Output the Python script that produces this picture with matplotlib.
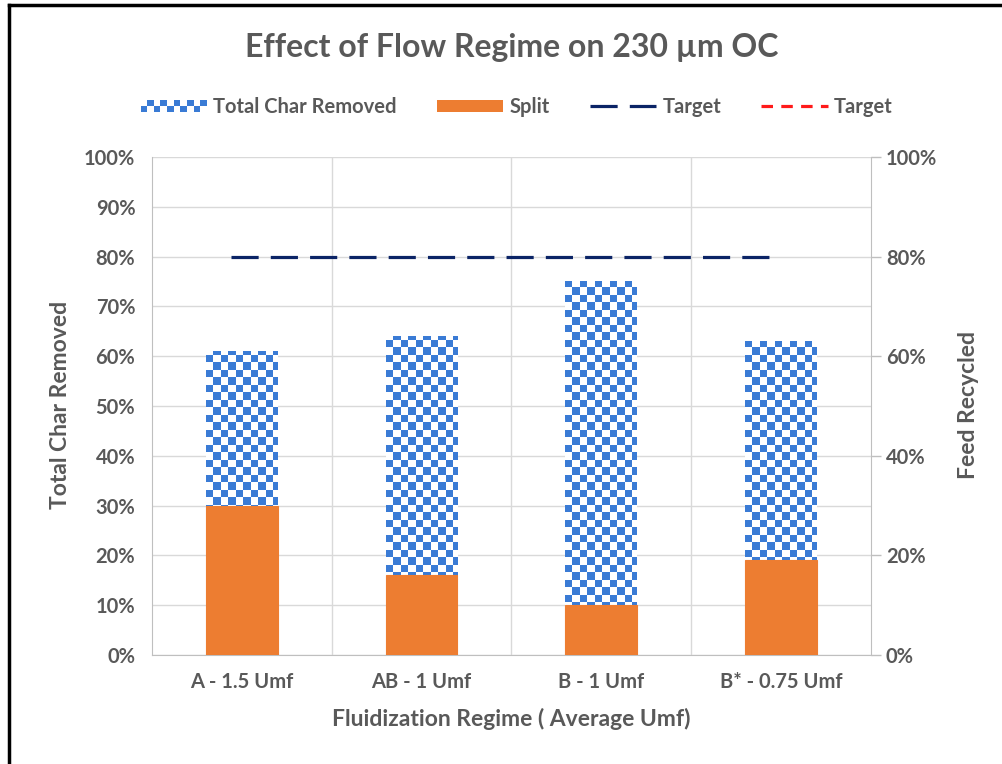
import numpy as np
import matplotlib
matplotlib.use("Agg")
import matplotlib.pyplot as plt
from matplotlib.colors import ListedColormap
from matplotlib.patches import Rectangle
from matplotlib.legend_handler import HandlerBase
from matplotlib.lines import Line2D
from matplotlib.ticker import PercentFormatter, MultipleLocator

# data
categories = ["A - 1.5 Umf", "AB - 1 Umf", "B - 1 Umf", "B* - 0.75 Umf"]
total_char_removed = [61, 64, 75, 63]   # %
split = [30, 16, 10, 19]                # %
target = [80, 80, 80, 80]               # %

BLUE = "#3a7bd5"
ORANGE = "#ED7D31"
NAVY = "#0b2466"
RED = "#ff1a1a"
GRAY = "#595959"
GRID = "#d9d9d9"

plt.rcParams["font.family"] = ["Lato", "DejaVu Sans"]
plt.rcParams["font.weight"] = "bold"

fig = plt.figure(figsize=(10.03, 7.64), dpi=100)
ax = fig.add_axes([0.1515, 0.1427, 0.7165, 0.6518])
ax2 = ax.twinx()

x = np.arange(len(categories))
bar_w = 0.4
ax.set_xlim(-0.5, len(categories) - 0.5)
ax.set_ylim(0, 100)

# checkerboard cells, about 7.5 px
px_x = 180.0          # pixels per category
px_y = 4.98           # pixels per percent
cw = 7.5 / px_x
ch = 7.5 / px_y
cmap = ListedColormap(["white", BLUE])
for xi, tot in zip(x, total_char_removed):
    x0 = xi - bar_w / 2
    rect = Rectangle((x0, 0), bar_w, tot, facecolor="white", edgecolor="none", zorder=2)
    ax.add_patch(rect)
    nx = int(np.ceil(bar_w / cw))
    ny = int(np.ceil(tot / ch))
    ii, jj = np.indices((ny, nx))
    board = ((ii + jj) % 2)[::-1]
    im = ax.imshow(board, cmap=cmap, interpolation="nearest", aspect="auto",
                   extent=(x0, x0 + nx * cw, 0, ny * ch), origin="upper", zorder=3)
    im.set_clip_path(rect)

ax.bar(x, split, width=bar_w, color=ORANGE, edgecolor=ORANGE, lw=0.8, zorder=4)
ax.set_xlim(-0.5, len(categories) - 0.5)
ax.set_ylim(0, 100)

ax2.set_ylim(0, 1)
ax2.plot(x - 0.06, np.array(target) / 100, color=NAVY, lw=2.3,
         linestyle=(0, (8.5, 3.8)), zorder=5)

# axes styling
ax.set_xticks(x)
ax.set_xticklabels(categories)
ax.set_xticks(x[:-1] + 0.5, minor=True)
ax.yaxis.set_major_locator(MultipleLocator(10))
ax.yaxis.set_major_formatter(PercentFormatter(100, decimals=0))
ax.grid(axis="y", color=GRID, lw=1, zorder=0)
ax.grid(axis="x", which="minor", color=GRID, lw=1, zorder=0)
ax.set_axisbelow(True)
ax.tick_params(axis="both", which="both", length=0, colors=GRAY, labelsize=14.5, pad=12)
ax.tick_params(axis="x", pad=12)
for side in ["top", "right"]:
    ax.spines[side].set_visible(False)
for side in ["left", "bottom"]:
    ax.spines[side].set_color("#bfbfbf")

ax2.yaxis.set_major_locator(MultipleLocator(0.2))
ax2.yaxis.set_major_formatter(PercentFormatter(1, decimals=0))
ax2.tick_params(axis="y", length=7, width=1, color="#bfbfbf", labelcolor=GRAY,
                labelsize=14.5, pad=4, direction="out")
for side in ["top", "left", "bottom"]:
    ax2.spines[side].set_visible(False)
ax2.spines["right"].set_color("#bfbfbf")

# texts
fig.text(0.51, 0.938, "Effect of Flow Regime on 230 µm OC", ha="center", va="center",
         fontsize=23, color=GRAY, fontweight="bold")
fig.text(0.51, 0.059, "Fluidization Regime ( Average Umf)", ha="center", va="center",
         fontsize=16.5, color=GRAY, fontweight="bold")
fig.text(0.06, 0.47, "Total Char Removed", ha="center", va="center", rotation=90,
         fontsize=16.5, color=GRAY, fontweight="bold")
fig.text(0.966, 0.47, "Feed Recycled", ha="center", va="center", rotation=90,
         fontsize=16.5, color=GRAY, fontweight="bold")


class HandlerChecker(HandlerBase):
    def create_artists(self, legend, orig_handle, xdescent, ydescent, width, height,
                       fontsize, trans):
        ncol, nrow = 10, 2
        w = width / ncol
        h = height / nrow
        arts = []
        for r in range(nrow):
            for c in range(ncol):
                if (r + c) % 2 == 0:
                    p = Rectangle((-xdescent + c * w, -ydescent + r * h), w, h,
                                  facecolor=BLUE, edgecolor="none", transform=trans)
                    arts.append(p)
        return arts


h_checker = Rectangle((0, 0), 1, 1)
h_split = Rectangle((0, 0), 1, 1, facecolor=ORANGE, edgecolor="none")
h_navy = Line2D([], [], color=NAVY, lw=2.3, linestyle=(0, (8.5, 3.8)))
h_red = Line2D([], [], color=RED, lw=2.3, linestyle=(0, (3.6, 2.6)))
leg = fig.legend([h_checker, h_split, h_navy, h_red],
                 ["Total Char Removed", "Split", "Target", "Target"],
                 handler_map={h_checker: HandlerChecker()},
                 loc="center", bbox_to_anchor=(0.515, 0.86), ncol=4, frameon=False,
                 fontsize=14.5, handlelength=3.3, handleheight=0.55, handletextpad=0.3,
                 columnspacing=2.0, labelcolor=GRAY)

# frame lines at top and left of the picture
fig.add_artist(Line2D([0.009, 0.009], [0, 0.994], color="black", lw=2.5))
fig.add_artist(Line2D([0.009, 1.0], [0.994, 0.994], color="black", lw=2.5))

fig.savefig("out.png", dpi=100)
